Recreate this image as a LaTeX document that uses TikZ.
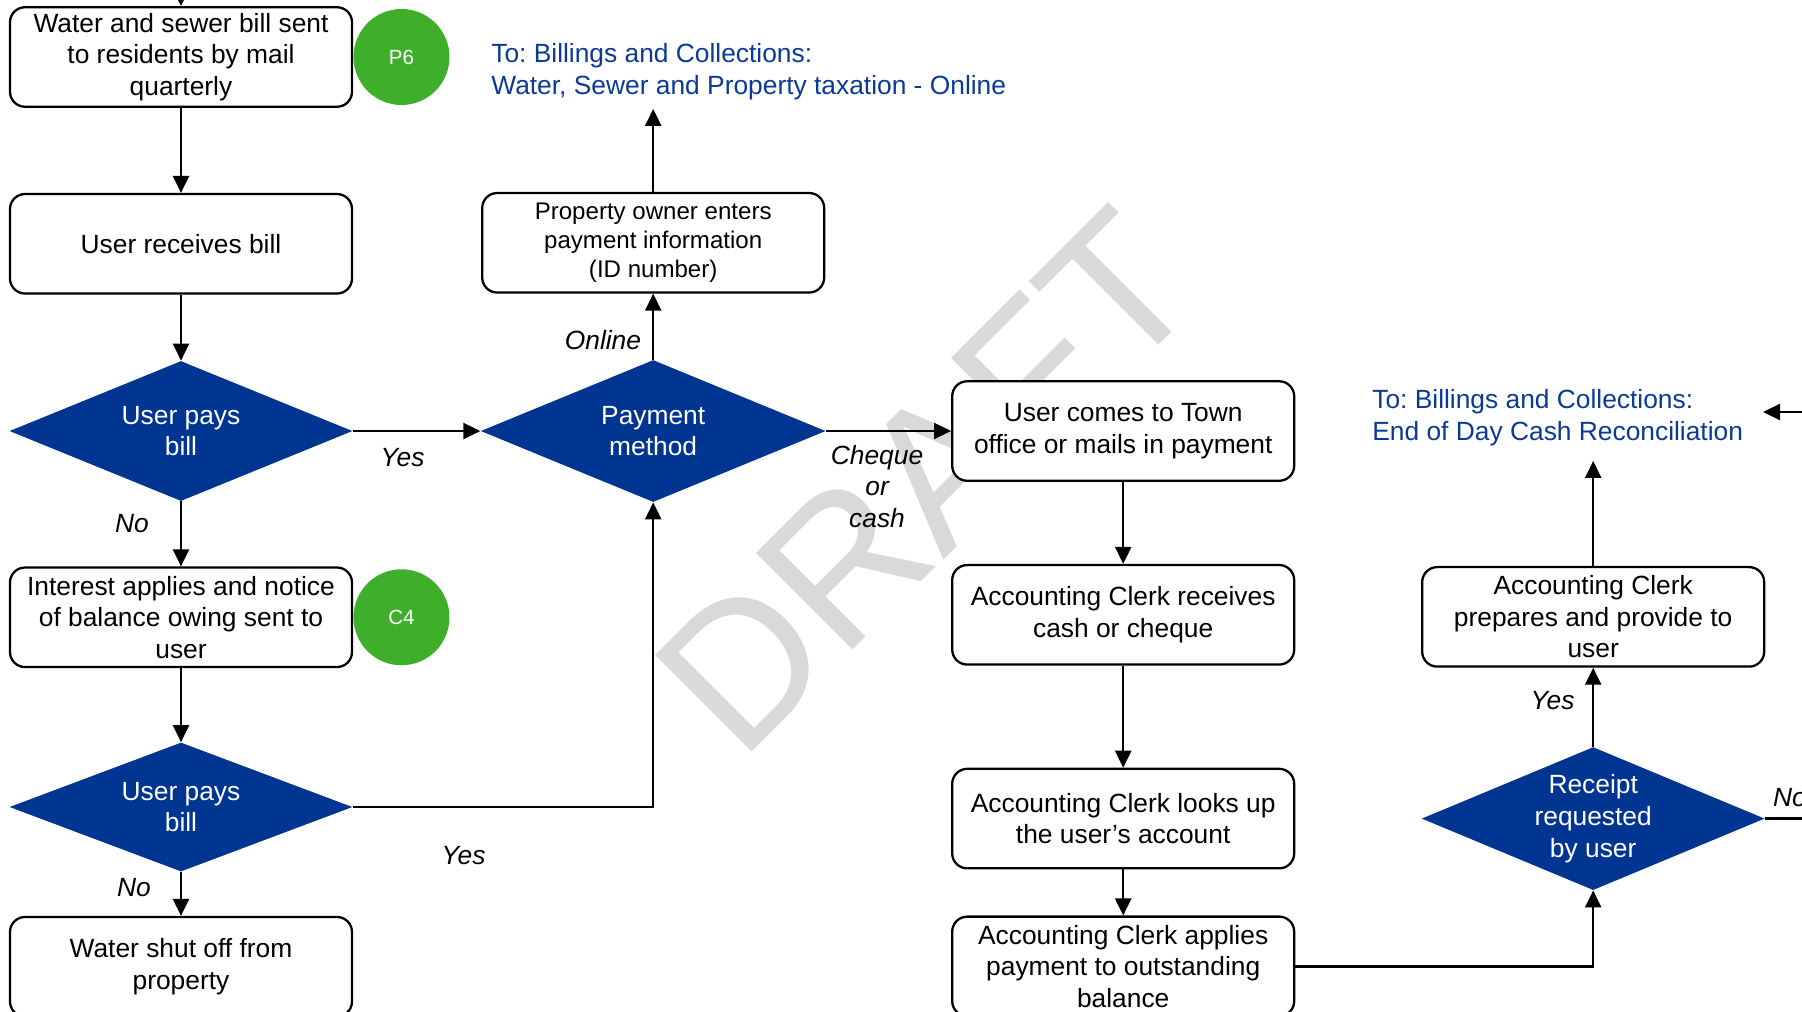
\documentclass[tikz,border=0pt]{standalone}
\usepackage{fontspec}
\setmainfont{Liberation Sans}
\usepackage{tikz}
\usetikzlibrary{positioning,arrows.meta,shapes.geometric}
\usepackage{xcolor}
\definecolor{decisionblue}{HTML}{003591}
\definecolor{targetblue}{HTML}{0B3A95}
\definecolor{refgreen}{HTML}{3FAE2B}
\definecolor{draftgray}{HTML}{D9D9D9}
\frenchspacing

\begin{document}
\begin{tikzpicture}[
    block/.style={draw, fill=white, line width=1.3pt, minimum width=6.84cm, minimum height=1.99cm, inner sep=2pt, align=center, rounded corners=0.3cm, font=\fontsize{15}{18}\selectfont},
    decision/.style={diamond, fill=decisionblue, text=white, aspect=2.4, inner sep=0pt, minimum width=6.86cm, minimum height=2.8cm, align=center, font=\fontsize{15}{18}\selectfont},
    refmark/.style={circle, fill=refgreen, text=white, minimum size=1.92cm, inner sep=0pt, font=\fontsize{11.7}{14}\selectfont},
    arrow/.style={-{Triangle[length=0.34cm, width=0.32cm]}, line width=1.3pt},
    link/.style={line width=1.3pt},
    answer/.style={font=\fontsize{15}{18}\selectfont\itshape, inner sep=0pt, align=center},
    target/.style={anchor=west, align=left, inner sep=0pt, text=targetblue, font=\fontsize{15}{18}\selectfont}
]
% Page
\useasboundingbox (0,0) rectangle (36.04,-20.24);
\clip (0,0) rectangle (36.04,-20.24);

% Watermark
\node[rotate=45, text=draftgray, font=\fontsize{113}{113}\selectfont] (draft) at (18.52,-9.62) {DRAFT};

% Billing
\node[block] (bill) at (3.62,-1.14) {Water and sewer bill sent\\to residents by mail\\quarterly};
\node[refmark, right=0 of bill] (p6) {P6};
\node[block, below=1.7 of bill] (receive) {User receives bill};
\node[decision, below=1.32 of receive] (pays) {User pays\\bill};
\node[block, below=1.3 of pays] (interest) {Interest applies and notice\\of balance owing sent to\\user};
\node[refmark, right=0 of interest] (c4) {C4};
\node[decision, below=1.48 of interest, minimum height=2.58cm] (paysagain) {User pays\\bill};
\node[block, below=0.88 of paysagain] (shutoff) {Water shut off from\\property};

% Payment method
\node[decision, right=2.55 of pays, minimum width=6.9cm, minimum height=2.84cm] (method) {Payment\\method};
\node[block, above=1.32 of method, font=\fontsize{13.7}{16.3}\selectfont] (owner) {Property owner enters\\payment information\\(ID number)};
\coordinate[above=1.66 of owner] (webout);
\node[target] (webref) at (9.82,-1.436) {To: Billings and Collections:\\Water, Sewer and Property taxation - Online};

% Town office
\node[block, right=2.5 of method] (counter) {User comes to Town\\office or mails in payment};
\node[block, below=1.64 of counter] (receives) {Accounting Clerk receives\\cash or cheque};
\node[block, below=2.04 of receives] (lookup) {Accounting Clerk looks up\\the user’s account};
\node[block, below=0.92 of lookup] (apply) {Accounting Clerk applies\\payment to outstanding\\balance};

% Receipt
\node[decision, right=2.52 of lookup, minimum height=2.86cm] (receipt) {Receipt\\requested\\by user};
\node[block, above=1.58 of receipt] (prepare) {Accounting Clerk\\prepares and provide to\\user};
\coordinate[above=2.1 of prepare] (cashout);
\node[target] (cashref) at (27.44,-8.356) {To: Billings and Collections:\\End of Day Cash Reconciliation};

% Loose ends
\coordinate[above=0.5 of bill] (incoming);
\coordinate (fromright) at (36.5,-8.24);
\coordinate (cashin) at (35.26,-8.24);
\coordinate (noexit) at (receipt.east -| fromright);

% Flow
\draw[arrow] (incoming) -- (bill);
\draw[arrow] (bill) -- (receive);
\draw[arrow] (receive) -- (pays);
\draw[arrow] (pays) -- node[answer, left=0.62cm, yshift=0.2cm] {No} (interest);
\draw[arrow] (pays) -- node[answer, below=0.33cm, xshift=-0.28cm] {Yes} (method);
\draw[arrow] (interest) -- (paysagain);
\draw[arrow] (paysagain) -- node[answer, left=0.58cm, yshift=0.12cm] {No} (shutoff);
\draw[arrow] (paysagain) -| node[answer, pos=0.25, below=0.77cm, xshift=-0.79cm] {Yes} (method);
\draw[arrow] (method) -- node[answer, left=0.22cm, yshift=-0.26cm] {Online} (owner);
\draw[arrow] (owner) -- (webout);
\draw[arrow] (method) -- node[answer, below=0.26cm, xshift=-0.23cm] {Cheque\\or\\cash} (counter);
\draw[arrow] (counter) -- (receives);
\draw[arrow] (receives) -- (lookup);
\draw[arrow] (lookup) -- (apply);
\draw[arrow] (apply) -| (receipt);
\draw[arrow] (receipt) -- node[answer, left=0.35cm, yshift=0.13cm] {Yes} (prepare);
\draw[arrow] (prepare) -- (cashout);
\draw[link] (receipt) -- node[answer, pos=0, anchor=south west, xshift=0.14cm, yshift=0.21cm] {No} (noexit);
\draw[arrow] (fromright) -- (cashin);
\end{tikzpicture}
\end{document}
